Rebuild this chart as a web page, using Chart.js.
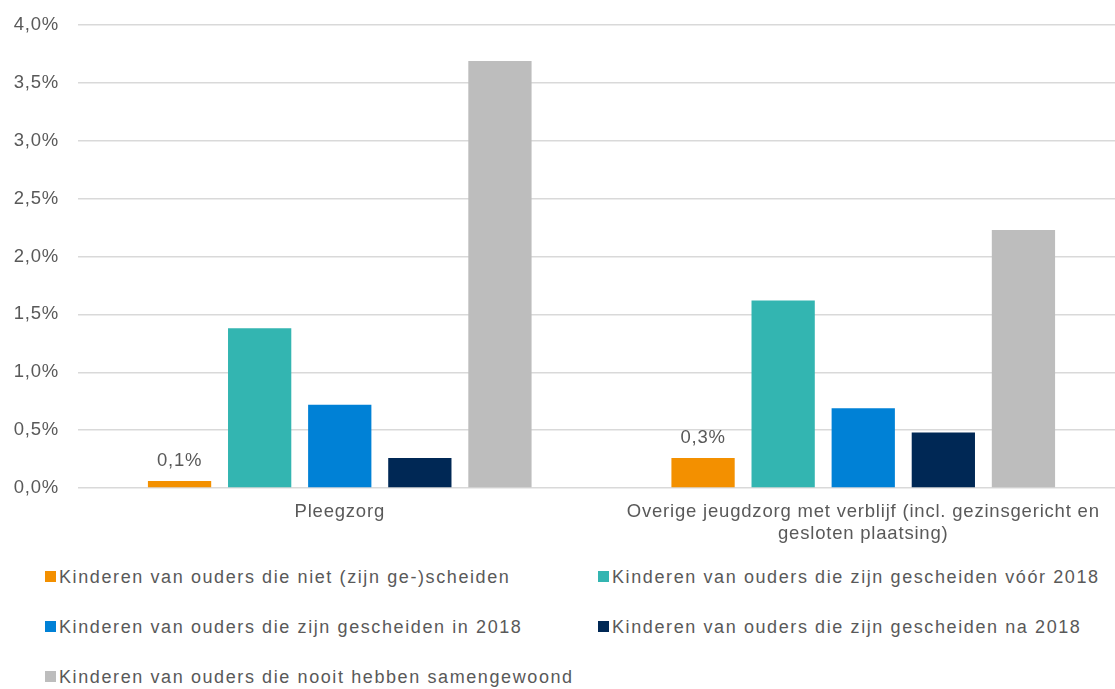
<!DOCTYPE html>
<html>
<head>
<meta charset="utf-8">
<script src="https://cdn.jsdelivr.net/npm/chart.js@4/dist/chart.umd.min.js"></script>
<style>
  html, body { margin: 0; padding: 0; background: #fff; overflow: hidden; }
  #wrap { position: relative; width: 1115px; height: 689px; overflow: hidden; }
  #cv { position: absolute; left: 0; top: 0; }
  .lg { position: absolute; font-family: "Liberation Sans", Arial, sans-serif; font-size: 18px; letter-spacing: 1.6px; color: #595959; white-space: nowrap; line-height: 20px; }
  .lg span.sw { display: inline-block; width: 11px; height: 11px; margin-right: 3px; vertical-align: 1px; }
</style>
</head>
<body>
<div id="wrap">
  <canvas id="cv"></canvas>
  <div id="legend"></div>
</div>
<script>
const categories = ["Pleegzorg", ["Overige jeugdzorg met verblijf (incl. gezinsgericht en", "gesloten plaatsing)"]];
const seriesNames = [
  "Kinderen van ouders die niet (zijn ge-)scheiden",
  "Kinderen van ouders die zijn gescheiden vóór 2018",
  "Kinderen van ouders die zijn gescheiden in 2018",
  "Kinderen van ouders die zijn gescheiden na 2018",
  "Kinderen van ouders die nooit hebben samengewoond"
];
const notDivorced = [0.06, 0.26];
const divorcedBefore2018 = [1.38, 1.62];
const divorcedIn2018 = [0.72, 0.69];
const divorcedAfter2018 = [0.26, 0.48];
const neverCohabited = [3.69, 2.23];
const orangeLabels = ["0,1%", "0,3%"];
const yTicks = [0, 0.5, 1.0, 1.5, 2.0, 2.5, 3.0, 3.5, 4.0];
const colors = ["#F39000", "#33B5B1", "#0081D6", "#002855", "#BDBDBD"];

const seriesValues = [notDivorced, divorcedBefore2018, divorcedIn2018, divorcedAfter2018, neverCohabited];

const cv = document.getElementById('cv');
cv.width = 1125; cv.height = 560;
cv.style.width = '1125px'; cv.style.height = '560px';

const FONT = '"Liberation Sans", Arial, sans-serif';
const LS = '0.8px';

const spacingPlugin = {
  id: 'spacing',
  beforeInit(chart) { chart.ctx.letterSpacing = LS; },
  beforeUpdate(chart) { chart.ctx.letterSpacing = LS; },
  beforeDraw(chart) { chart.ctx.letterSpacing = LS; }
};

const labelPlugin = {
  id: 'orangeLabels',
  afterDatasetsDraw(chart) {
    const ctx = chart.ctx;
    const meta = chart.getDatasetMeta(0);
    ctx.save();
    ctx.letterSpacing = LS;
    ctx.font = '18.5px ' + FONT;
    ctx.fillStyle = '#595959';
    ctx.textAlign = 'center';
    ctx.textBaseline = 'bottom';
    meta.data.forEach((bar, i) => {
      ctx.fillText(orangeLabels[i], bar.x, bar.y - 11);
    });
    ctx.restore();
  }
};

new Chart(cv, {
  type: 'bar',
  data: {
    labels: categories,
    datasets: seriesNames.map((n, i) => ({
      label: n,
      data: seriesValues[i],
      backgroundColor: colors[i],
      borderWidth: 0,
      categoryPercentage: 0.765,
      barPercentage: 0.79
    }))
  },
  options: {
    responsive: false,
    animation: false,
    devicePixelRatio: 1,
    layout: { padding: { left: 0, right: 0, top: 25, bottom: 0 } },
    plugins: { legend: { display: false }, tooltip: { enabled: false } },
    scales: {
      x: {
        grid: { display: false },
        border: { display: false },
        afterFit(axis) { axis.height = 72; },
        ticks: {
          color: '#595959',
          font: { family: FONT, size: 18.5 },
          maxRotation: 0, autoSkip: false, padding: 5
        }
      },
      y: {
        min: 0, max: 4,
        afterBuildTicks(axis) { axis.ticks = yTicks.map(v => ({ value: v })); },
        afterFit(axis) { axis.width = 78; axis.paddingTop = 0; axis.paddingBottom = 0; },
        grid: { color: '#D9D9D9', lineWidth: 1.5, drawTicks: false },
        border: { display: false },
        ticks: {
          color: '#595959',
          padding: 19,
          font: { family: FONT, size: 18.5, lineHeight: 1 },
          callback: v => v.toFixed(1).replace('.', ',') + '%'
        }
      }
    }
  },
  plugins: [spacingPlugin, labelPlugin]
});

const legendPos = [
  [45, 567], [598, 567],
  [45, 617], [598, 617],
  [45, 667]
];
const lg = document.getElementById('legend');
seriesNames.forEach((n, i) => {
  const d = document.createElement('div');
  d.className = 'lg';
  d.style.left = legendPos[i][0] + 'px';
  d.style.top = legendPos[i][1] + 'px';
  d.innerHTML = '<span class="sw" style="background:' + colors[i] + '"></span>' + n;
  lg.appendChild(d);
});
</script>
</body>
</html>
